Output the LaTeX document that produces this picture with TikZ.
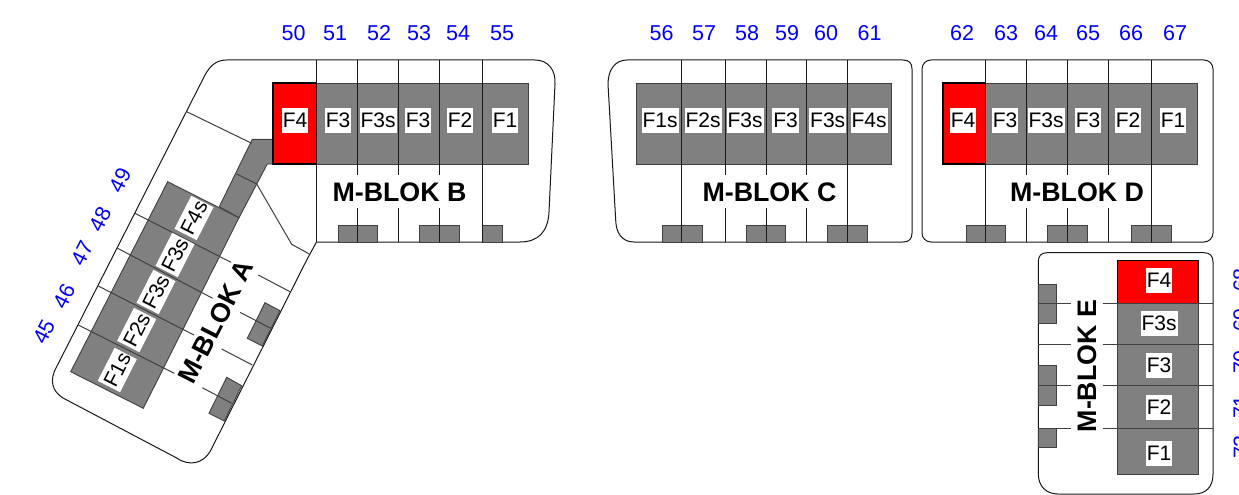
\documentclass[tikz,border=0pt]{standalone}
\usepackage{fontspec}
\setmainfont{Liberation Sans}
\tikzset{
 px/.style={x=1pt,y=-1pt},
 wall/.style={draw=black!90,line width=1pt},
 thin wall/.style={draw=black!75,line width=1pt},
 bay/.style={fill=black!50,draw=black!75,line width=0.9pt},
 redbay/.style={fill=red,draw=black,line width=1.1pt},
 flab/.style={fill=white,inner sep=0pt,minimum height=25pt,text=black,font=\fontsize{21}{21}\selectfont,align=center,inner xsep=1pt},
 num/.style={text=blue,inner sep=0pt,font=\fontsize{21.5}{21.5}\selectfont},
 blok/.style={inner sep=0pt,text=black,font=\fontsize{26.8}{26.8}\selectfont\bfseries},
}
\begin{document}
\begin{tikzpicture}[px]
\useasboundingbox (0,0) rectangle (1239,495);
% outlines
\draw[wall] (226.7,60) -- (535,60) .. controls (548,60) and (556,70) .. (555,84) -- (549,212) .. controls (548,232) and (538,242) .. (520,242) -- (316.5,242) -- (306.7,260) -- (210,451.7) .. controls (203,463) and (190,467) .. (176.7,458) -- (63,398) .. controls (52,391) and (49,380) .. (56.7,366.7) -- (205,75) .. controls (210,66) and (216,60) .. (226.7,60) -- cycle;
\draw[wall] (627,60) -- (903,60) .. controls (909,60) and (912,63) .. (912,69) -- (912,233) .. controls (912,239) and (909,242) .. (903,242) -- (634,242) .. controls (622,242) and (616,233) .. (615.7,220) -- (608,84) .. controls (608,70) and (615,60) .. (627,60) -- cycle;
\draw[wall,rounded corners=9pt] (922,60) rectangle (1213,242);
\draw[wall] (1047,252.7) -- (1204,252.7) .. controls (1210,252.7) and (1213,256) .. (1213,262) -- (1213,474) .. controls (1213,487) and (1206,494) .. (1194,494) -- (1058,494) .. controls (1046,494) and (1038.3,486) .. (1038.3,474) -- (1038.3,262) .. controls (1038.3,256) and (1041,252.7) .. (1047,252.7) -- cycle;
% block A bays
\draw[bay] (167.7,181.7) -- (239,217.7) -- (143.3,408.3) -- (70.7,371.7) -- cycle;
\draw[bay] (252.3,139.3) -- (273,139.3) -- (273,164) -- (267.3,164) -- (239,217.7) -- (219.3,206.7) -- cycle;
\draw[bay] (265,302.7) -- (280,310.7) -- (262.3,346) -- (247.3,338.3) -- cycle;
\draw[bay] (226.7,377.3) -- (241.7,385.7) -- (224.3,421) -- (209,413.3) -- cycle;
% block B/C/D bays
\draw[bay] (316.5,83) rectangle (528,164);
\draw[redbay] (273,83) rectangle (316.5,164);
\draw[bay] (636,83) rectangle (891,164);
\draw[bay] (985.5,83) rectangle (1197,164);
\draw[redbay] (943,83) rectangle (985.5,164);
\foreach \a/\b in {338/377.5,419.5/459.5,482.5/502,662/702,746/785.7,827.5/867.5,966/1005.5,1047.5/1087.5,1131/1171}
  \draw[bay] (\a,225) rectangle (\b,242);
% block E bays
\draw[bay] (1117.3,303.7) rectangle (1198,474);
\draw[redbay] (1117.3,260.5) rectangle (1198,303.7);
\draw[bay] (1038.3,284) rectangle (1056.3,323);
\draw[bay] (1038.3,365.7) rectangle (1056.3,405);
\draw[bay] (1038.3,428.3) rectangle (1056.3,447.7);
% walls B, C, D
\foreach \x in {316.5,482.5,681.7,847.5,985.5,1151}
  \draw[wall] (\x,60) -- (\x,242);
\foreach \x in {357.5,398.5,439.5,725,766,806.7,1026.5,1067.5,1108.5}{
  \draw[wall] (\x,60) -- (\x,175);
  \draw[wall] (\x,208) -- (\x,242);
}
% walls E
\foreach \y in {303.7,344.3,385.3,428.7}{
  \draw[thin wall] (1038.3,\y) -- (1070.7,\y);
  \draw[thin wall] (1102.7,\y) -- (1213,\y);
}
% walls A
\draw[thin wall] (78.3,325) -- (174.3,373.3);
\draw[thin wall] (202.3,387.7) -- (231.7,403.3);
\draw[thin wall] (98.3,286) -- (194,335);
\draw[thin wall] (221.7,349) -- (252.3,365);
\draw[thin wall] (117,248) -- (212.7,298.3);
\draw[thin wall] (240,312.3) -- (270.7,328.3);
\draw[thin wall] (135,213.3) -- (231,262.3);
\draw[thin wall] (258.3,275) -- (290,291.7);
\draw[thin wall] (186.7,111.7) -- (251.7,143.3);
\draw[thin wall] (236.7,174) -- (256.7,184) -- (291.7,244.3) -- (309.3,254);
% room labels
\foreach \n/\x/\t in {a/295/F4,b/338/F3,c/378/F3s,d/418/F3,e/460/F2,f/505/F1,
  g/660/F1s,h/703/F2s,i/745/F3s,j/785.5/F3,k/827.7/F3s,l/869/F4s,
  m/963/F4,n/1005/F3,o/1046/F3s,p/1088/F3,q/1128/F2,r/1173/F1}
  \node[flab] (room\n) at (\x,120) {\t};
\foreach \n/\x/\y/\t in {s/117.3/370/F1s,t/136.7/330/F2s,u/156/292/F3s,v/175/255/F3s,w/194/218/F4s}
  \node[flab,rotate=63] (room\n) at (\x,\y) {\t};
\foreach \n/\y/\t in {x/280/F4,y/323/F3s,z/365/F3,aa/407/F2,ab/453/F1}
  \node[flab] (room\n) at (1159,\y) {\t};
% block names
\node[blok] (blokb) at (399.5,192) {M-BLOK B};
\node[blok] (blokc) at (769.5,192) {M-BLOK C};
\node[blok] (blokd) at (1077,192) {M-BLOK D};
\node[blok,rotate=63] (bloka) at (216,322) {M-BLOK A};
\node[blok,rotate=90] (bloke) at (1087,366) {M-BLOK E};
% numbers
\foreach \x/\t in {293.5/50,335/51,379/52,419/53,458/54,502/55,661.5/56,704/57,747/58,787/59,826/60,869.5/61,962/62,1006/63,1046/64,1088/65,1131/66,1175/67}
  \node[num] (num\t) at (\x,33) {\t};
\foreach \x/\y/\t in {44/332/45,64/296/46,82/253/47,100/219/48,120/180/49}
  \node[num,rotate=63] (num\t) at (\x,\y) {\t};
\foreach \y/\t in {280/68,320/69,362/70,407/71,447/72}
  \node[num,rotate=90] (num\t) at (1241,\y) {\t};
\end{tikzpicture}
\end{document}
